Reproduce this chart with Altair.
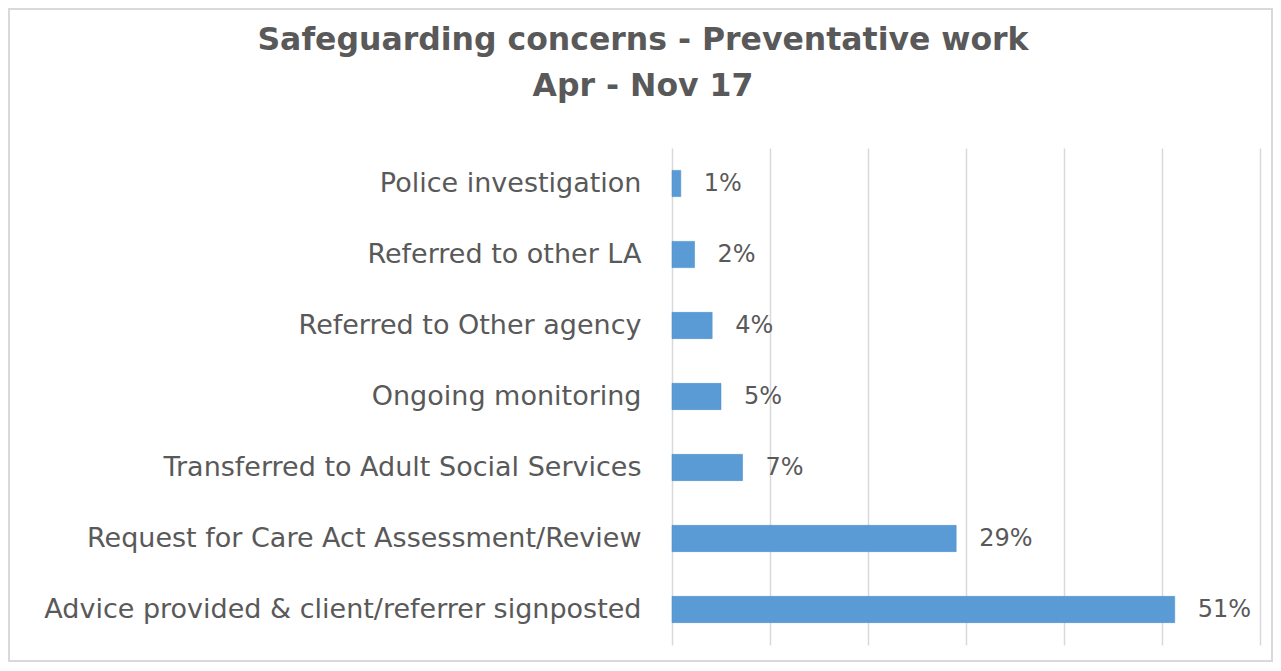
import altair as alt
import pandas as pd

categories = [
    "Police investigation",
    "Referred to other LA",
    "Referred to Other agency",
    "Ongoing monitoring",
    "Transferred to Adult Social Services",
    "Request for Care Act Assessment/Review",
    "Advice provided & client/referrer signposted",
]
values = [0.009, 0.023, 0.041, 0.050, 0.072, 0.290, 0.513]
labels = ["1%", "2%", "4%", "5%", "7%", "29%", "51%"]
title_lines = ["Safeguarding concerns - Preventative work", "Apr - Nov 17"]
x_ticks = [0, 0.1, 0.2, 0.3, 0.4, 0.5, 0.6]

df = pd.DataFrame({"category": categories, "value": values, "label": labels})
one = pd.DataFrame({"k": [0]})

FONT = "DejaVu Sans"
GREY = "#595959"
PW, PH = 588, 497

y_enc = alt.Y(
    "category:N",
    sort=categories,
    title=None,
    scale=alt.Scale(paddingInner=0.63, paddingOuter=0.315),
    axis=alt.Axis(
        ticks=False, domain=False, labelFont=FONT, labelFontSize=27,
        labelColor=GREY, labelPadding=31, labelLimit=700,
    ),
)
x_enc = alt.X(
    "value:Q",
    title=None,
    scale=alt.Scale(domain=[0, 0.6], nice=False),
    axis=alt.Axis(
        values=x_ticks, labels=False, ticks=False, domain=False,
        grid=True, gridColor="#d9d9d9", gridWidth=1.5,
    ),
)

bars = alt.Chart(df).mark_bar(color="#5b9bd5", stroke="#4a8ccb", strokeWidth=0.5).encode(x=x_enc, y=y_enc)
texts = alt.Chart(df).mark_text(
    align="left", baseline="middle", dx=23, font=FONT, fontSize=24, color=GREY
).encode(x="value:Q", y=alt.Y("category:N", sort=categories), text="label:N")

frame = alt.Chart(one).mark_rect(fill="white", fillOpacity=0, stroke="#d9d9d9", strokeWidth=2).encode(
    x=alt.value(-663), x2=alt.value(PW + 12), y=alt.value(-139), y2=alt.value(PH + 16)
)
t1 = alt.Chart(one).mark_text(
    align="center", baseline="alphabetic", font=FONT, fontSize=31.5, fontWeight="bold", color=GREY
).encode(x=alt.value(-29), y=alt.value(-98), text=alt.value(title_lines[0]))
t2 = alt.Chart(one).mark_text(
    align="center", baseline="alphabetic", font=FONT, fontSize=31.5, fontWeight="bold", color=GREY
).encode(x=alt.value(-29), y=alt.value(-52), text=alt.value(title_lines[1]))

chart = alt.layer(frame, bars, texts, t1, t2).properties(
    width=PW, height=PH,
    background="white",
    autosize=alt.AutoSizeParams(type="none"),
    padding={"left": 664, "top": 140, "right": 13, "bottom": 18},
).configure_view(strokeWidth=0, stroke="transparent")

chart.save("out.html", embed_options={"renderer": "svg", "actions": False})
